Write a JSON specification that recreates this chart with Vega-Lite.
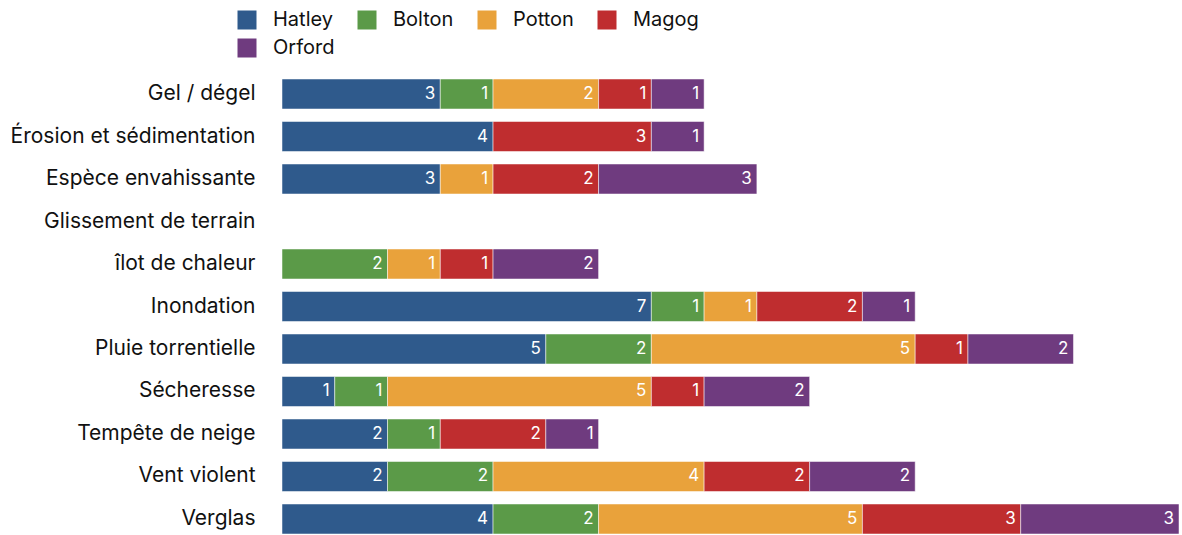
{
  "$schema": "https://vega.github.io/schema/vega-lite/v6.json",
  "width": 897,
  "height": 455,
  "autosize": "none",
  "padding": {"left": 282, "top": 79, "right": 3, "bottom": 1},
  "background": "white",
  "config": {"view": {"stroke": null}, "font": "Inter"},
  "data": {"values": [
    {"risque": "Gel / dégel", "commune": "Hatley", "n": 3},
    {"risque": "Gel / dégel", "commune": "Bolton", "n": 1},
    {"risque": "Gel / dégel", "commune": "Potton", "n": 2},
    {"risque": "Gel / dégel", "commune": "Magog", "n": 1},
    {"risque": "Gel / dégel", "commune": "Orford", "n": 1},
    {"risque": "Érosion et sédimentation", "commune": "Hatley", "n": 4},
    {"risque": "Érosion et sédimentation", "commune": "Magog", "n": 3},
    {"risque": "Érosion et sédimentation", "commune": "Orford", "n": 1},
    {"risque": "Espèce envahissante", "commune": "Hatley", "n": 3},
    {"risque": "Espèce envahissante", "commune": "Potton", "n": 1},
    {"risque": "Espèce envahissante", "commune": "Magog", "n": 2},
    {"risque": "Espèce envahissante", "commune": "Orford", "n": 3},
    {"risque": "îlot de chaleur", "commune": "Bolton", "n": 2},
    {"risque": "îlot de chaleur", "commune": "Potton", "n": 1},
    {"risque": "îlot de chaleur", "commune": "Magog", "n": 1},
    {"risque": "îlot de chaleur", "commune": "Orford", "n": 2},
    {"risque": "Inondation", "commune": "Hatley", "n": 7},
    {"risque": "Inondation", "commune": "Bolton", "n": 1},
    {"risque": "Inondation", "commune": "Potton", "n": 1},
    {"risque": "Inondation", "commune": "Magog", "n": 2},
    {"risque": "Inondation", "commune": "Orford", "n": 1},
    {"risque": "Pluie torrentielle", "commune": "Hatley", "n": 5},
    {"risque": "Pluie torrentielle", "commune": "Bolton", "n": 2},
    {"risque": "Pluie torrentielle", "commune": "Potton", "n": 5},
    {"risque": "Pluie torrentielle", "commune": "Magog", "n": 1},
    {"risque": "Pluie torrentielle", "commune": "Orford", "n": 2},
    {"risque": "Sécheresse", "commune": "Hatley", "n": 1},
    {"risque": "Sécheresse", "commune": "Bolton", "n": 1},
    {"risque": "Sécheresse", "commune": "Potton", "n": 5},
    {"risque": "Sécheresse", "commune": "Magog", "n": 1},
    {"risque": "Sécheresse", "commune": "Orford", "n": 2},
    {"risque": "Tempête de neige", "commune": "Hatley", "n": 2},
    {"risque": "Tempête de neige", "commune": "Bolton", "n": 1},
    {"risque": "Tempête de neige", "commune": "Magog", "n": 2},
    {"risque": "Tempête de neige", "commune": "Orford", "n": 1},
    {"risque": "Vent violent", "commune": "Hatley", "n": 2},
    {"risque": "Vent violent", "commune": "Bolton", "n": 2},
    {"risque": "Vent violent", "commune": "Potton", "n": 4},
    {"risque": "Vent violent", "commune": "Magog", "n": 2},
    {"risque": "Vent violent", "commune": "Orford", "n": 2},
    {"risque": "Verglas", "commune": "Hatley", "n": 4},
    {"risque": "Verglas", "commune": "Bolton", "n": 2},
    {"risque": "Verglas", "commune": "Potton", "n": 5},
    {"risque": "Verglas", "commune": "Magog", "n": 3},
    {"risque": "Verglas", "commune": "Orford", "n": 3}
  ]},
  "transform": [
    {"calculate": "indexof(['Hatley','Bolton','Potton','Magog','Orford'], datum.commune)", "as": "ord"}
  ],
  "encoding": {
    "y": {
      "field": "risque", "type": "nominal", "title": null,
      "scale": {
        "domain": ["Gel / dégel", "Érosion et sédimentation", "Espèce envahissante", "Glissement de terrain", "îlot de chaleur", "Inondation", "Pluie torrentielle", "Sécheresse", "Tempête de neige", "Vent violent", "Verglas"],
        "paddingInner": 0.294, "paddingOuter": 0
      },
      "axis": {"ticks": false, "domain": false, "labelPadding": 27, "labelFontSize": 21, "labelColor": "#111111", "labelLimit": 300}
    },
    "x": {
      "field": "n", "type": "quantitative", "stack": "zero",
      "scale": {"domain": [0, 17], "nice": false},
      "axis": null
    },
    "order": {"field": "ord", "type": "quantitative"}
  },
  "layer": [
    {
      "mark": {"type": "bar", "stroke": "white", "strokeWidth": 0.5},
      "encoding": {
        "color": {
          "field": "commune", "type": "nominal", "title": null,
          "scale": {"domain": ["Hatley", "Bolton", "Potton", "Magog", "Orford"], "range": ["#2f5a8c", "#5b9a48", "#e9a23b", "#bf2d2f", "#6f3b7f"]},
          "legend": {
            "orient": "none", "legendX": -45, "legendY": -69, "direction": "horizontal", "columns": 4, "gridAlign": "all",
            "symbolType": "square", "symbolSize": 361, "symbolStrokeWidth": 0, "symbolOpacity": 1,
            "labelFontSize": 20, "labelColor": "#111111", "labelOffset": 16, "columnPadding": 18, "rowPadding": 8, "labelLimit": 200
          }
        }
      }
    },
    {
      "mark": {"type": "text", "align": "right", "baseline": "middle", "dx": -5, "color": "white", "fontSize": 17},
      "encoding": {
        "text": {"field": "n", "type": "quantitative"},
        "detail": {"field": "commune", "type": "nominal"}
      }
    }
  ]
}
